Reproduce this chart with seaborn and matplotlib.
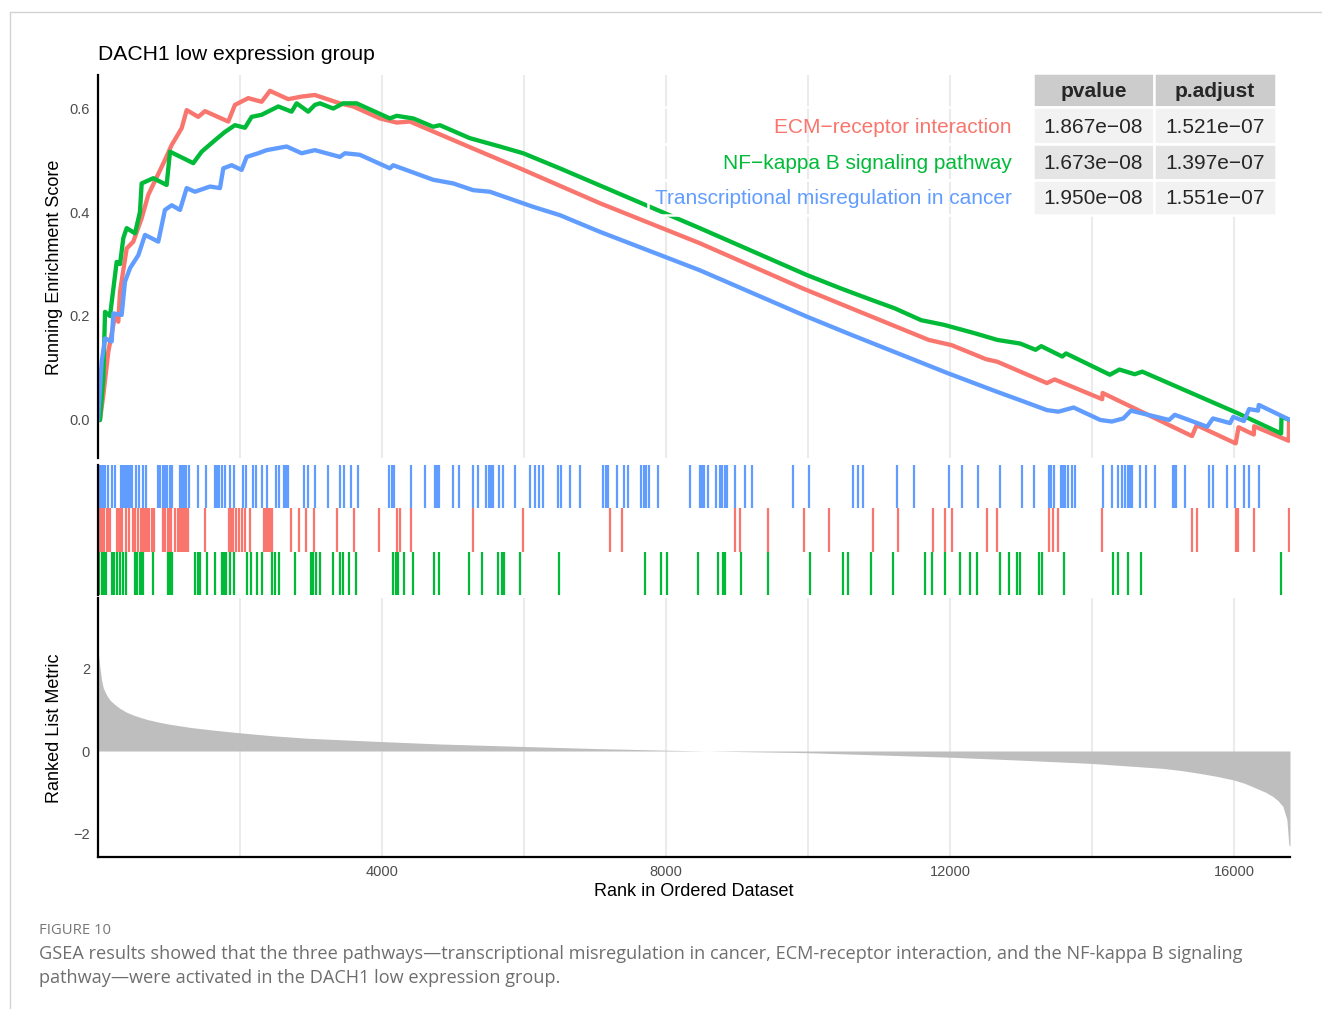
import numpy as np
import pandas as pd
import matplotlib
matplotlib.use("Agg")
import matplotlib.pyplot as plt
from matplotlib.patches import Rectangle
from matplotlib.lines import Line2D
import seaborn as sns

sns.set_style("white")
plt.rcParams['font.family'] = ['Liberation Sans', 'DejaVu Sans']
plt.rcParams['axes.unicode_minus'] = True

# ---------------------------------------------------------------- data
N_GENES = 16790

pathways = ["ECM\u2212receptor interaction",
            "NF\u2212kappa B signaling pathway",
            "Transcriptional misregulation in cancer"]
colors = ["#F8766D", "#00BA38", "#619CFF"]
pvalues = ["1.867e\u221208", "1.673e\u221208", "1.950e\u221208"]
padjust = ["1.521e\u221207", "1.397e\u221207", "1.551e\u221207"]

# running enrichment score (rank, score)
ecm_rank = [0, 28, 75, 145, 239, 286, 310, 404, 497, 615, 708, 943, 1038, 1178,
            1249, 1412, 1507, 1835, 1929, 2116, 2305, 2422, 2679, 2868, 3055,
            3407, 3595, 3971, 4206, 4393, 5284, 5942, 7068, 8476, 9927, 10840,
            11701, 12023, 12507, 12668, 13366, 13475, 14145, 14150, 15410,
            15475, 16025, 16065, 16280, 16285, 16772, 16776, 16790]
ecm_es = [0.0, 0.0, 0.048, 0.131, 0.200, 0.189, 0.247, 0.330, 0.343, 0.388,
          0.433, 0.500, 0.529, 0.561, 0.596, 0.583, 0.594, 0.574, 0.606, 0.619,
          0.612, 0.633, 0.617, 0.622, 0.625, 0.609, 0.603, 0.580, 0.572, 0.574,
          0.522, 0.484, 0.417, 0.340, 0.253, 0.202, 0.154, 0.144, 0.117, 0.112,
          0.071, 0.078, 0.040, 0.052, -0.031, -0.010, -0.045, -0.014, -0.028,
          -0.012, -0.040, -0.002, 0.0]

nfkb_rank = [0, 28, 75, 99, 169, 263, 310, 357, 404, 521, 591, 615, 779, 967,
             1014, 1342, 1460, 1647, 1788, 1929, 2070, 2164, 2305, 2539, 2727,
             2798, 2961, 3055, 3126, 3313, 3454, 3642, 4111, 4206, 4440, 4721,
             4815, 5238, 5660, 5989, 6505, 8476, 9981, 10464, 10895, 11218,
             11594, 11916, 12345, 12668, 12990, 13206, 13286, 13582, 13635,
             14253, 14387, 14602, 14709, 16054, 16665, 16670, 16790]
nfkb_es = [0.0, 0.0, 0.080, 0.208, 0.200, 0.304, 0.300, 0.350, 0.369, 0.359,
           0.400, 0.455, 0.465, 0.452, 0.516, 0.494, 0.516, 0.538, 0.554, 0.567,
           0.562, 0.583, 0.587, 0.603, 0.593, 0.609, 0.593, 0.606, 0.609, 0.599,
           0.609, 0.609, 0.580, 0.585, 0.580, 0.564, 0.567, 0.542, 0.526, 0.513,
           0.484, 0.369, 0.279, 0.253, 0.231, 0.215, 0.192, 0.183, 0.167, 0.154,
           0.147, 0.135, 0.142, 0.122, 0.128, 0.087, 0.097, 0.088, 0.093, 0.013,
           -0.026, 0.006, 0.0]

tmc_rank = [0, 52, 99, 193, 216, 333, 380, 451, 568, 662, 849, 943, 1038, 1155,
            1249, 1366, 1577, 1718, 1765, 1882, 2023, 2094, 2257, 2375, 2657,
            2868, 3055, 3407, 3478, 3689, 4111, 4158, 4721, 5003, 5284, 5519,
            6129, 6505, 7068, 8476, 9981, 10626, 11271, 11970, 12668, 12990,
            13366, 13528, 13742, 14119, 14280, 14442, 14549, 15087, 15167,
            15623, 15705, 15946, 15990, 16140, 16214, 16340, 16350, 16790]
tmc_es = [0.0, 0.112, 0.157, 0.151, 0.205, 0.202, 0.266, 0.292, 0.317, 0.356,
          0.343, 0.404, 0.413, 0.404, 0.446, 0.439, 0.449, 0.446, 0.484, 0.490,
          0.481, 0.506, 0.513, 0.519, 0.526, 0.513, 0.519, 0.506, 0.513, 0.510,
          0.484, 0.490, 0.462, 0.455, 0.442, 0.439, 0.410, 0.394, 0.362, 0.288,
          0.199, 0.163, 0.128, 0.090, 0.054, 0.038, 0.019, 0.016, 0.024, 0.000,
          -0.003, 0.003, 0.018, 0.000, 0.010, -0.013, 0.003, -0.006, 0.006,
          -0.002, 0.021, 0.018, 0.029, 0.0]

# positions of gene-set members in the ranked list
ecm_hits = [20, 45, 70, 90, 120, 150, 175, 265, 295, 325, 345, 400, 435, 495,
            515, 570, 600, 635, 665, 695, 725, 755, 785, 915, 950, 980, 1010,
            1035, 1090, 1120, 1150, 1180, 1205, 1240, 1265, 1505, 1840, 1870,
            1900, 1945, 1980, 2030, 2070, 2145, 2340, 2370, 2400, 2420, 2450,
            2725, 2830, 2930, 3040, 3365, 3610, 3965, 4205, 4255, 4415, 5285,
            5985, 7218, 7385, 8975, 9037, 9443, 9948, 10300, 10910, 11273,
            11756, 11930, 12027, 12522, 12660, 13400, 13450, 13525, 14148,
            15415, 15474, 16030, 16062, 16283, 16775]
nfkb_hits = [20, 50, 80, 110, 195, 230, 265, 305, 350, 400, 525, 555, 585, 610,
             635, 770, 980, 1010, 1040, 1365, 1405, 1430, 1535, 1650, 1740,
             1770, 1800, 1865, 1920, 2100, 2160, 2240, 2310, 2445, 2490, 2555,
             2780, 3000, 3035, 3065, 3120, 3315, 3415, 3450, 3530, 3635, 4150,
             4195, 4225, 4315, 4440, 4730, 4810, 5220, 5405, 5640, 5690, 5720,
             5950, 6490, 7710, 7930, 8015, 8455, 8740, 8800, 8835, 9058, 9443,
             10028, 10488, 10560, 10888, 11193, 11653, 11747, 11935, 12146,
             12283, 12381, 12700, 12827, 12942, 12987, 13250, 13290, 13611,
             14292, 14373, 14503, 14690, 16670]
tmc_hits = [5, 25, 45, 70, 100, 140, 195, 235, 320, 345, 370, 390, 420, 450,
            485, 535, 575, 630, 680, 850, 880, 910, 940, 970, 1010, 1040, 1155,
            1185, 1215, 1245, 1275, 1415, 1520, 1645, 1680, 1710, 1750, 1785,
            1855, 1910, 2045, 2080, 2180, 2230, 2310, 2380, 2510, 2555, 2615,
            2650, 2675, 2900, 2965, 3060, 3235, 3415, 3470, 3570, 3665, 4095,
            4135, 4170, 4405, 4610, 4740, 4780, 4810, 4995, 5090, 5280, 5350,
            5470, 5505, 5535, 5560, 5650, 5710, 5875, 6085, 6160, 6205, 6265,
            6480, 6520, 6655, 6790, 7120, 7155, 7190, 7310, 7415, 7470, 7650,
            7690, 7720, 7755, 7885, 8335, 8475, 8505, 8530, 8590, 8700, 8765,
            8795, 8825, 8855, 8978, 9120, 9210, 9785, 10010, 10630, 10700,
            10780, 11255, 11500, 11990, 12170, 12390, 12700, 13020, 13185,
            13395, 13430, 13465, 13565, 13595, 13620, 13670, 13720, 13760,
            14158, 14278, 14373, 14418, 14470, 14505, 14540, 14570, 14672,
            14760, 14892, 15135, 15165, 15190, 15310, 15655, 15700, 15900,
            16014, 16145, 16206, 16348]

# ranked list metric (rank, value)
metric_rank = [1, 28, 52, 75, 122, 169, 240, 310, 400, 497, 600, 700, 850,
               1000, 1150, 1300, 1650, 2000, 2450, 2938, 3450, 3970, 4815,
               5989, 7000, 8008, 8570, 9978, 11010, 12000, 12982, 13991, 15000,
               15250, 15516, 15750, 15995, 16150, 16314, 16450, 16549, 16620,
               16690, 16746, 16774, 16790]
metric_value = [2.44, 2.00, 1.70, 1.52, 1.35, 1.23, 1.12, 1.03, 0.94, 0.87,
                0.81, 0.76, 0.70, 0.65, 0.61, 0.57, 0.50, 0.44, 0.37, 0.31,
                0.27, 0.23, 0.17, 0.11, 0.06, 0.02, 0.0, -0.04, -0.096, -0.15,
                -0.22, -0.30, -0.42, -0.47, -0.54, -0.61, -0.70, -0.78, -0.90,
                -1.00, -1.10, -1.20, -1.34, -1.66, -2.27, -2.30]

title = "DACH1 low expression group"
caption_label = "FIGURE 10"
caption_lines = [
    "GSEA results showed that the three pathways\u2014transcriptional misregulation in cancer, "
    "ECM-receptor interaction, and the NF-kappa B signaling",
    "pathway\u2014were activated in the DACH1 low expression group.",
]

# ---------------------------------------------------------------- layout helpers
W, H = 1322, 1009
fig = plt.figure(figsize=(W / 100, H / 100), dpi=100)
fig.patch.set_facecolor("white")


def fx(px):
    return px / W


def fy(py):
    return 1 - py / H


def axes_px(left, top, right, bottom):
    return fig.add_axes([fx(left), fy(bottom), (right - left) / W, (bottom - top) / H])


GRID = "#EBEBEB"
TICK_TXT = "#4D4D4D"
AX_LW = 1.6

ax1 = axes_px(98, 75, 1290, 458)
ax2 = axes_px(98, 465, 1290, 595)
ax3 = axes_px(98, 598, 1290, 857)

# ---------------------------------------------------------------- running score
es_df = pd.concat([
    pd.DataFrame({"rank": ecm_rank, "es": ecm_es, "pathway": pathways[0]}),
    pd.DataFrame({"rank": nfkb_rank, "es": nfkb_es, "pathway": pathways[1]}),
    pd.DataFrame({"rank": tmc_rank, "es": tmc_es, "pathway": pathways[2]}),
], ignore_index=True)

sns.lineplot(data=es_df, x="rank", y="es", hue="pathway", hue_order=pathways,
             palette=dict(zip(pathways, colors)), estimator=None, sort=False,
             linewidth=3.1, legend=False, ax=ax1)
ax1.set_xlim(0, N_GENES)
ax1.set_ylim(-0.0731, 0.6635)
ax1.set_xticks(range(2000, 16001, 2000))
ax1.tick_params(axis="x", length=0, labelbottom=False)
ax1.set_yticks([0.0, 0.2, 0.4, 0.6])
ax1.set_yticklabels(["0.0", "0.2", "0.4", "0.6"])
ax1.grid(axis="x", color=GRID, lw=1.5)
ax1.set_axisbelow(True)
ax1.set_xlabel("")
ax1.set_ylabel("")

# ---------------------------------------------------------------- hit marks
for hits, col, row in [(nfkb_hits, colors[1], 0), (ecm_hits, colors[0], 1), (tmc_hits, colors[2], 2)]:
    ax2.vlines(hits, row, row + 1, colors=col, lw=1.6)
ax2.set_xlim(0, N_GENES)
ax2.set_ylim(0, 3)
ax2.set_xticks([])
ax2.set_yticks([])

# ---------------------------------------------------------------- ranked metric
metric_df = pd.DataFrame({"rank": metric_rank, "metric": metric_value})
ax3.fill_between(metric_df["rank"], metric_df["metric"], 0, color="#BEBEBE", lw=0, zorder=2)
ax3.set_xlim(0, N_GENES)
ax3.set_ylim(-2.563, 3.70)
ax3.set_xticks([4000, 8000, 12000, 16000])
ax3.set_xticklabels(["4000", "8000", "12000", "16000"])
ax3.set_xticks([2000, 6000, 10000, 14000], minor=True)
ax3.tick_params(axis="x", which="minor", length=0)
ax3.set_yticks([-2, 0, 2])
ax3.grid(axis="x", which="both", color=GRID, lw=1.5)
ax3.set_axisbelow(True)

for ax in (ax1, ax2, ax3):
    for side in ("top", "right", "bottom"):
        ax.spines[side].set_visible(False)
    ax.spines["left"].set_color("black")
    ax.spines["left"].set_linewidth(AX_LW)
    ax.tick_params(axis="both", which="major", labelsize=10.5, labelcolor=TICK_TXT,
                   color="#333333", width=0.9, length=3.2, pad=2.5)
    ax.set_facecolor("none")
ax3.spines["bottom"].set_visible(True)
ax3.spines["bottom"].set_color("black")
ax3.spines["bottom"].set_linewidth(AX_LW)
ax1.tick_params(axis="x", length=0)

# ---------------------------------------------------------------- titles
fig.text(fx(98), fy(60), title, fontsize=15.2, ha="left", va="baseline", color="black")
fig.text(fx(55), fy(267), "Running Enrichment Score", rotation=90, fontsize=13,
         ha="center", va="center", color="black")
fig.text(fx(55), fy(728), "Ranked List Metric", rotation=90, fontsize=13,
         ha="center", va="center", color="black")
fig.text(fx(694), fy(892), "Rank in Ordered Dataset", fontsize=13,
         ha="center", va="center", color="black")

# ---------------------------------------------------------------- p-value table
def rect(x0, y0, x1, y1, **kw):
    fig.add_artist(Rectangle((fx(x0), fy(y1)), (x1 - x0) / W, (y1 - y0) / H,
                             transform=fig.transFigure, **kw))


col_edges = [1033, 1154, 1276]
row_edges = [107, 144, 180, 215]
row_fill = ["#F2F2F2", "#E5E5E5", "#F2F2F2"]
SEP = 1.8

for c in range(2):
    rect(col_edges[c], 73, col_edges[c + 1], 107, facecolor="#CCCCCC",
         edgecolor="white", lw=SEP)
for r in range(3):
    rect(648, row_edges[r], 1033, row_edges[r + 1], fill=False,
         edgecolor="white", lw=SEP)
    for c in range(2):
        rect(col_edges[c], row_edges[r], col_edges[c + 1], row_edges[r + 1],
             facecolor=row_fill[r], edgecolor="white", lw=SEP)

for c, head in enumerate(["pvalue", "p.adjust"]):
    fig.text(fx((col_edges[c] + col_edges[c + 1]) / 2), fy(97), head,
             fontsize=15, fontweight="bold", ha="center", va="baseline")
baselines = [133, 169, 204]
for r in range(3):
    fig.text(fx(1012), fy(baselines[r]), pathways[r], fontsize=15,
             color=colors[r], ha="right", va="baseline")
    fig.text(fx((col_edges[0] + col_edges[1]) / 2), fy(baselines[r]), pvalues[r],
             fontsize=15, ha="center", va="baseline")
    fig.text(fx((col_edges[1] + col_edges[2]) / 2), fy(baselines[r]), padjust[r],
             fontsize=15, ha="center", va="baseline")

# ---------------------------------------------------------------- frame and caption
fig.add_artist(Line2D([fx(10), fx(W)], [fy(12), fy(12)], transform=fig.transFigure,
                      color="#D2D2D2", lw=1.0))
fig.add_artist(Line2D([fx(10), fx(10)], [fy(12), fy(H)], transform=fig.transFigure,
                      color="#D2D2D2", lw=1.0))

renderer = fig.canvas.get_renderer()


def fitted_text(x, y, s, width_px, size, **kw):
    t = fig.text(fx(x), fy(y), s, fontsize=size, **kw)
    w = t.get_window_extent(renderer).width
    t.set_fontsize(size * width_px / w)
    return t


cap_font = ["Open Sans", "DejaVu Sans"]
fitted_text(39, 930, caption_label, 72, 10, family=cap_font, color="#777777",
            ha="left", va="center")
t1 = fitted_text(39, 954, caption_lines[0], 1213, 12.5, family=cap_font,
                 color="#6E6E6E", ha="left", va="center")
fig.text(fx(39), fy(978), caption_lines[1], fontsize=t1.get_fontsize(),
         family=cap_font, color="#6E6E6E", ha="left", va="center")

fig.savefig("out.png", dpi=100, facecolor="white")
